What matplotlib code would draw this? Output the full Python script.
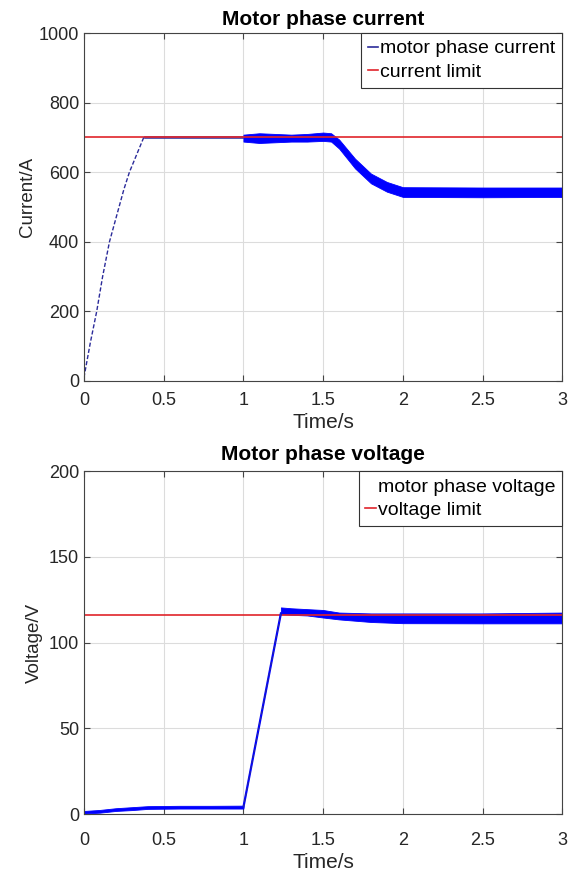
import numpy as np
import matplotlib
matplotlib.use("Agg")
import matplotlib.pyplot as plt
from matplotlib.lines import Line2D

plt.rcParams["font.family"] = ["Liberation Sans", "DejaVu Sans"]

# ---- motor phase current (A) ----
cur_limit = 700
rise_t = [0.0, 0.04, 0.08, 0.117, 0.16, 0.19, 0.22, 0.25, 0.285, 0.33, 0.375]
rise_i = [10, 110, 200, 300, 400, 450, 500, 550, 600, 650, 700]
flat_t = [0.375, 0.6, 0.8, 1.0]
flat_lo = [697, 697, 697, 697]
flat_hi = [703, 703, 703, 703]
band_t = [1.0, 1.1, 1.2, 1.3, 1.4, 1.5, 1.55, 1.6, 1.7, 1.8, 1.9, 2.0, 2.5, 3.0]
band_lo = [688, 684, 686, 688, 688, 690, 688, 668, 611, 568, 544, 529, 528, 529]
band_hi = [708, 712, 710, 708, 710, 714, 712, 694, 639, 596, 572, 557, 556, 556]

# ---- motor phase voltage (V) ----
volt_limit = 116
v_low_t = [0.0, 0.1, 0.2, 0.3, 0.4, 0.6, 0.8, 1.0]
v_low_lo = [0.3, 0.8, 1.8, 2.3, 3.0, 3.2, 3.2, 3.2]
v_low_hi = [1.8, 2.4, 3.4, 4.0, 4.6, 4.8, 4.8, 4.9]
ramp_t = [1.0, 1.235]
ramp_v = [4, 117]
v_band_t = [1.235, 1.3, 1.4, 1.5, 1.6, 1.8, 2.0, 2.5, 3.0]
v_band_lo = [116.5, 116.2, 115.8, 114.6, 113.5, 112.0, 111.3, 111.2, 111.2]
v_band_hi = [120.5, 120.0, 119.5, 119.0, 117.5, 117.0, 117.0, 117.0, 117.5]

xticks = [0, 0.5, 1, 1.5, 2, 2.5, 3]
xticklabels = ["0", "0.5", "1", "1.5", "2", "2.5", "3"]

navy = "#2b2b9a"
blue = "#0000ff"
red = "#e0242b"
txt = "#262626"


def style(ax, xpad):
    ax.set_xlim(0, 3)
    ax.set_xticks(xticks)
    ax.set_xticklabels(xticklabels)
    ax.grid(True, color="#dcdcdc", lw=0.8)
    ax.set_axisbelow(True)
    ax.tick_params(direction="in", top=True, right=True, labelsize=13,
                   length=4, color="#444444", labelcolor=txt)
    ax.tick_params(axis="x", pad=xpad)
    ax.tick_params(axis="y", pad=3.5)
    for s in ax.spines.values():
        s.set_color("#444444")
        s.set_linewidth(0.8)
    ax.set_xlabel("Time/s", fontsize=15, color=txt, labelpad=3)


def add_legend(ax, handles, labels):
    leg = ax.legend(handles, labels, loc="upper right", fontsize=14,
                    borderaxespad=0, handlelength=0.55, handletextpad=0.1,
                    labelspacing=0.3, fancybox=False, framealpha=1,
                    borderpad=0.35)
    leg.get_frame().set_edgecolor("#333333")
    leg.get_frame().set_linewidth(0.8)
    return leg


fig = plt.figure(figsize=(5.75, 8.74), dpi=100)

ax1 = fig.add_axes([0.146, 0.5641, 0.832, 0.3981])
ax1.axhline(cur_limit, color=red, lw=1.2, zorder=1.5)
ax1.plot(rise_t, rise_i, color=navy, lw=1.0, ls=(0, (3, 1.5)))
ax1.fill_between(flat_t, flat_lo, flat_hi, color=navy, lw=0.5, alpha=0.85)
ax1.fill_between(band_t, band_lo, band_hi, color=blue, lw=0.6)
ax1.set_ylim(0, 1000)
ax1.set_yticks([0, 200, 400, 600, 800, 1000])
style(ax1, 8)
ax1.set_ylabel("Current/A", fontsize=13.5, color=txt)
ax1.yaxis.set_label_coords(-0.10, 0.53)
ax1.set_title("Motor phase current", fontsize=15, fontweight="bold", pad=5.8)
add_legend(ax1, [Line2D([], [], color=navy, lw=1.2), Line2D([], [], color=red, lw=1.2)],
           ["motor phase current", "current limit"])

ax2 = fig.add_axes([0.146, 0.0686, 0.832, 0.3924])
ax2.axhline(volt_limit, color=red, lw=1.2, zorder=1.5)
ax2.fill_between(v_low_t, v_low_lo, v_low_hi, color=blue, lw=0.6)
ax2.plot(ramp_t, ramp_v, color=blue, lw=1.6)
ax2.plot(ramp_t, ramp_v, color=navy, lw=0.8, ls=(0, (3, 2)))
ax2.fill_between(v_band_t, v_band_lo, v_band_hi, color=blue, lw=0.6)
ax2.set_ylim(0, 200)
ax2.set_yticks([0, 50, 100, 150, 200])
style(ax2, 13)
ax2.set_ylabel("Voltage/V", fontsize=13.5, color=txt)
ax2.yaxis.set_label_coords(-0.085, 0.5)
ax2.set_title("Motor phase voltage", fontsize=15, fontweight="bold", pad=8)
add_legend(ax2, [Line2D([], [], color="white", lw=1.2), Line2D([], [], color=red, lw=1.2)],
           ["motor phase voltage", "voltage limit"])

fig.savefig("out.png", dpi=100)
